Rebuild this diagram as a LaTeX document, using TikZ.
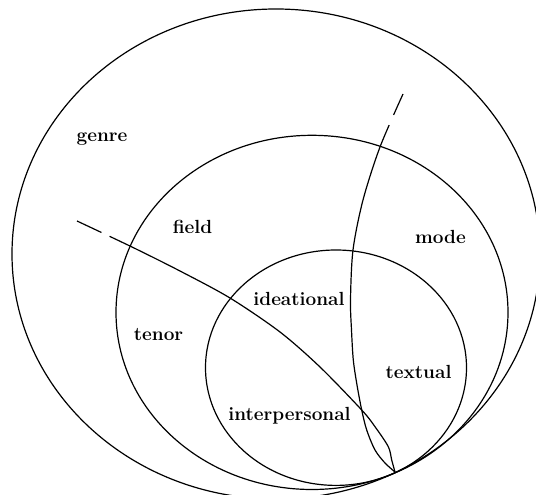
\documentclass[tikz,border=0pt]{standalone}
\usepackage{tikz}

\begin{document}
\begin{tikzpicture}[
    x=1pt, y=-1pt,
    ring/.style={line width=1.2pt},
    split/.style={line width=1.2pt, smooth, tension=0.5},
    lbl/.style={font=\fontsize{19}{23}\selectfont\bfseries, inner sep=0pt, anchor=base}
]
\useasboundingbox (0,0) rectangle (536,495);
% the three strata
\draw[ring] (276,254) ellipse [x radius=264, y radius=245];
\draw[ring] (312,312.4) ellipse [x radius=196, y radius=177.1];
\draw[ring] (336,367.7) ellipse [x radius=130.5, y radius=117.7];
\coordinate (meet) at (395,472);
% boundaries between the metafunctions
\draw[split, dash pattern=on 27pt off 9pt on 900pt off 1pt] plot coordinates {(77,221) (132,247) (180,271) (230,298) (280,332) (320,367) (361.7,410) (375,426.7) (388.3,446.7) (391.7,460) (meet)};
\draw[split, dash pattern=on 23pt off 11pt on 900pt off 1pt] plot coordinates {(403,94) (380,147) (363,200) (353,250) (350.5,300) (351.5,330) (353.3,360) (357,385) (361.7,410) (366.7,430) (375,450) (385,463) (meet)};
% labels
\node[lbl] (genre)         at (102,141)   {genre};
\node[lbl] (field)         at (192.5,233) {field};
\node[lbl] (mode)          at (440.5,243) {mode};
\node[lbl] (tenor)         at (158.5,340) {tenor};
\node[lbl] (ideational)    at (299,305)   {ideational};
\node[lbl] (textual)       at (418.5,378) {textual};
\node[lbl] (interpersonal) at (289.5,420) {interpersonal};
\end{tikzpicture}
\end{document}
